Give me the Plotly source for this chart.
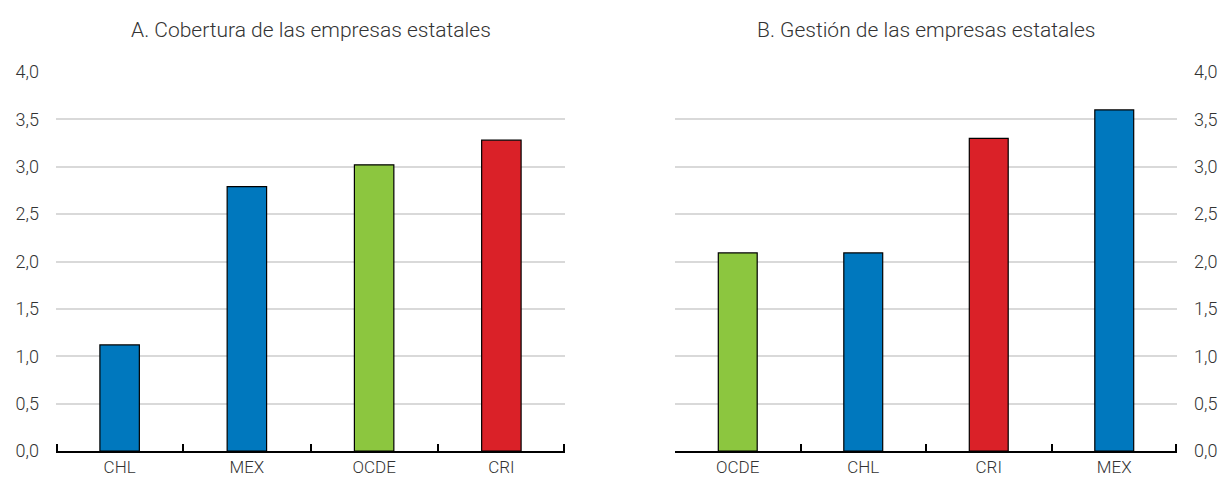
import plotly.graph_objects as go

cats_a = ["CHL", "MEX", "OCDE", "CRI"]
vals_a = [1.12, 2.79, 3.02, 3.28]
cats_b = ["OCDE", "CHL", "CRI", "MEX"]
vals_b = [2.09, 2.09, 3.30, 3.60]
title_a = "A. Cobertura de las empresas estatales"
title_b = "B. Gestión de las empresas estatales"
y_ticks = [0, 0.5, 1.0, 1.5, 2.0, 2.5, 3.0, 3.5, 4.0]
y_labels = ["0,0", "0,5", "1,0", "1,5", "2,0", "2,5", "3,0", "3,5", "4,0"]

BLUE = "#0078BE"
GREEN = "#8CC63F"
RED = "#DA2128"
color_map = {"CHL": BLUE, "MEX": BLUE, "OCDE": GREEN, "CRI": RED}

FONT = "Roboto, sans-serif"
TXT = "#333333"

fig = go.Figure()
fig.add_trace(go.Bar(x=cats_a, y=vals_a, marker=dict(color=[color_map[c] for c in cats_a],
                     line=dict(color="black", width=1.2)), width=0.31, xaxis="x", yaxis="y"))
fig.add_trace(go.Bar(x=cats_b, y=vals_b, marker=dict(color=[color_map[c] for c in cats_b],
                     line=dict(color="black", width=1.2)), width=0.31, xaxis="x2", yaxis="y2"))
# empty traces so the helper edge-tick axes get drawn
fig.add_trace(go.Scatter(x=[None], y=[None], xaxis="x3", yaxis="y", hoverinfo="skip"))
fig.add_trace(go.Scatter(x=[None], y=[None], xaxis="x4", yaxis="y2", hoverinfo="skip"))

tf = dict(size=18, color=TXT, family=FONT, weight=300)
xcommon = dict(type="category", showline=True, linecolor="black", linewidth=2,
               ticks="inside", ticklen=7, tickwidth=2, tickcolor="black", tickson="boundaries",
               showgrid=False, tickfont=dict(size=17, color=TXT, family=FONT, weight=300),
               fixedrange=True)
xedge = dict(type="linear", range=[0, 1], tickvals=[0.002, 0.998], showticklabels=False,
             ticks="inside", ticklen=7, tickwidth=2, tickcolor="black",
             showline=False, showgrid=False, zeroline=False, side="bottom", fixedrange=True)
ycommon = dict(range=[0, 4.0], tickvals=y_ticks, ticktext=y_labels, showgrid=True,
               gridcolor="#d9d9d9", gridwidth=1.5, zeroline=False, showline=False,
               tickfont=tf, ticks="", fixedrange=True)

T, B = 72, 26
H = 477
dom_a = [56 / 1225, 565 / 1225]
dom_b = [675 / 1225, 1177 / 1225]

fig.update_layout(
    width=1225, height=H,
    margin=dict(l=0, r=0, t=T, b=B, autoexpand=False),
    paper_bgcolor="white", plot_bgcolor="white",
    font=dict(family=FONT, color=TXT),
    showlegend=False,
    xaxis=dict(domain=dom_a, anchor="y", **xcommon),
    yaxis=dict(anchor="x", side="left", ticklabelstandoff=16, **ycommon),
    xaxis2=dict(domain=dom_b, anchor="y2", **xcommon),
    yaxis2=dict(anchor="x2", side="right", ticklabelstandoff=16, **ycommon),
    xaxis3=dict(domain=dom_a, anchor="y", overlaying="x", **xedge),
    xaxis4=dict(domain=dom_b, anchor="y2", overlaying="x2", **xedge),
)
ytitle = 1 + (T - 30) / (H - T - B)
for txt, dom in [(title_a, dom_a), (title_b, dom_b)]:
    fig.add_annotation(text=txt, x=(dom[0] + dom[1]) / 2, y=ytitle, xref="paper", yref="paper",
                       xanchor="center", yanchor="middle", showarrow=False,
                       font=dict(size=21, color=TXT, family=FONT, weight=300))

fig.write_html("out.html", config={"displayModeBar": False},
               post_script="document.body.style.margin='0';")
